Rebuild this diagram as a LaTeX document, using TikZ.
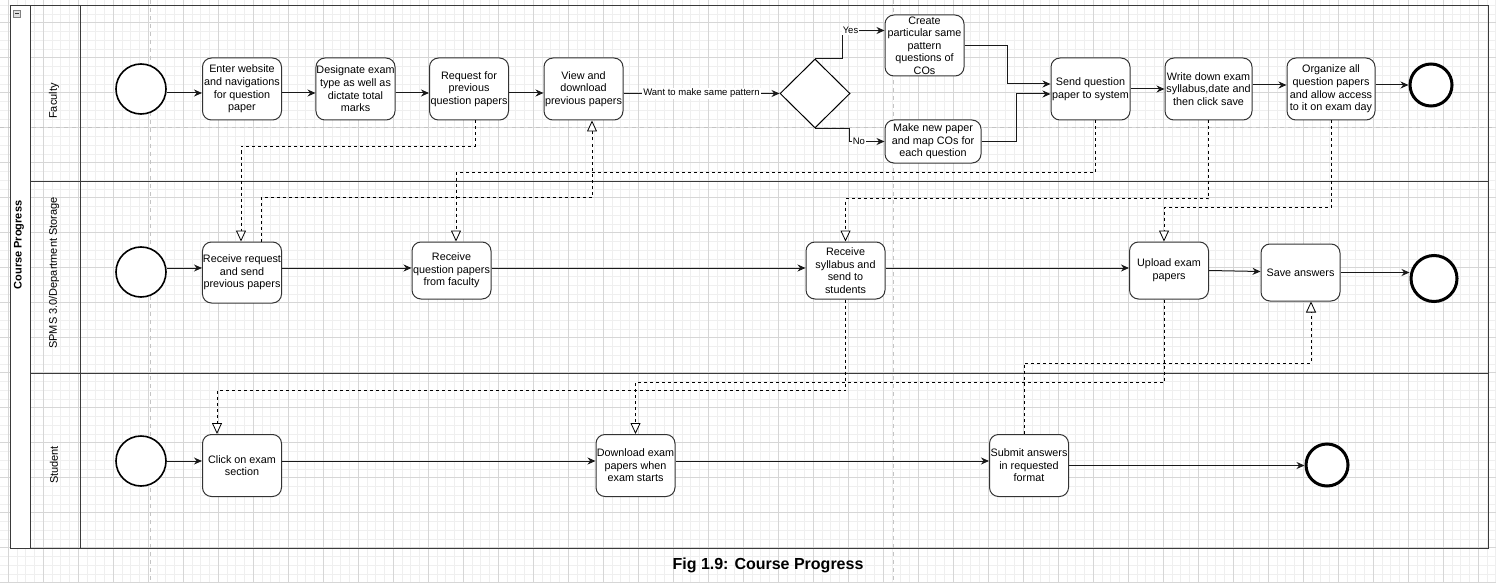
\documentclass[tikz,border=0pt]{standalone}
\usepackage{fontspec}
\setmainfont{Liberation Sans}
\usetikzlibrary{arrows.meta,shapes.geometric}
\definecolor{poolline}{HTML}{3A3A3A}
\definecolor{gridminor}{HTML}{EFEFEF}
\definecolor{gridmajor}{HTML}{D6D6D6}
\definecolor{pagebreak}{HTML}{C4C4C4}

\begin{document}
\begin{tikzpicture}[x=1pt,y=-1pt,
  task/.style={draw=black!80,fill=white,rounded corners=9pt,line width=1pt,
    align=center,inner sep=0.5pt,minimum width=79pt,minimum height=62pt,
    font=\fontsize{10.8}{12.6}\selectfont},
  startev/.style={circle,draw=black,fill=white,line width=1.6pt,minimum size=50pt,inner sep=0pt},
  endev/.style={circle,draw=black,fill=white,line width=3pt,minimum size=42pt,inner sep=0pt},
  gate/.style={diamond,draw=black,fill=white,line width=1pt,minimum width=70pt,minimum height=69pt,inner sep=0pt},
  flow/.style={draw=black!90,line width=1pt,-{Stealth[length=8pt,width=7pt]}},
  msg/.style={draw=black,line width=0.8pt,dash pattern=on 3pt off 3pt,
    -{Triangle[open,fill=white,length=11pt,width=10pt]}},
  lbl/.style={fill=white,inner sep=1pt,font=\fontsize{9.5}{11}\selectfont},
  lane/.style={rotate=90,font=\fontsize{11}{13}\selectfont},
  gridminor/.style={draw=gridminor,line width=0.8pt},
  gridmajor/.style={draw=gridmajor,line width=0.8pt},
  pagebreak/.style={draw=pagebreak,line width=1pt,dash pattern=on 4pt off 4pt}]

  \useasboundingbox (0,0) rectangle (1496,583);
  \fill[white] (0,0) rectangle (1496,583);

  \foreach \k in {0,...,170} \draw[gridminor] ({8.3+8.75*\k},0) -- ({8.3+8.75*\k},583);
  \foreach \k in {0,...,66} \draw[gridminor] (0,{5.2+8.75*\k}) -- (1496,{5.2+8.75*\k});
  \foreach \k in {0,...,42} \draw[gridmajor] ({8.3+35*\k},0) -- ({8.3+35*\k},583);
  \foreach \k in {0,...,16} \draw[gridmajor] (0,{22.7+35*\k}) -- (1496,{22.7+35*\k});

  \draw[pagebreak] (150,0) -- (150,583);
  \draw[pagebreak] (893,0) -- (893,583);
  \draw[pagebreak] (0,128) -- (1496,128);

  % pool and lanes
  \fill[white] (10,6) rectangle (30,548);
  \draw[poolline,line width=1pt] (10,6) rectangle (1488,548);
  \draw[poolline,line width=1pt] (30,6) -- (30,548);
  \draw[poolline,line width=1pt] (80,6) -- (80,548);
  \draw[poolline,line width=1pt] (30,181) -- (1488,181);
  \draw[poolline,line width=1pt] (30,373) -- (1488,373);

  \node[draw=gray,fill=gray!25,minimum size=7pt,inner sep=0pt] (collapse) at (17,13.5) {};
  \draw[black!80,line width=1pt] ([xshift=-2pt]collapse.center) -- ([xshift=2pt]collapse.center);

  \node[lane,font=\fontsize{11}{13}\selectfont\bfseries] (pool) at (19,245) {Course Progress};
  \node[lane] (faculty) at (54,101) {Faculty};
  \node[lane] (storage) at (54,273) {SPMS 3.0/Department Storage};
  \node[lane] (student) at (54,465) {Student};

  \begin{scope}[every node/.style={task}]
    \node (f1) at (242,89) {Enter website\\and navigations\\for question\\paper};
    \node (f2) at (355.5,89) {Designate exam\\type as well as\\dictate total\\marks};
    \node (f3) at (469,89) {Request for\\previous\\question papers};
    \node (f4) at (583.5,89) {View and\\download\\previous papers};
    \node[minimum height=61pt] (f5) at (924.5,45.5) {Create\\particular same\\pattern\\questions of\\COs};
    \node[minimum width=96pt,minimum height=43pt] (f6) at (933,141.5) {Make new paper\\and map COs for\\each question};
    \node (f7) at (1090.5,89) {Send question\\paper to system};
    \node[minimum width=87pt] (f8) at (1208.5,89) {Write down exam\\syllabus,date and\\then click save};
    \node[minimum width=88pt] (f9) at (1331,89) {Organize all\\question papers\\and allow access\\to it on exam day};

    \node[minimum height=61pt] (s1) at (242,272.5) {Receive request\\and send\\previous papers};
    \node[minimum height=57pt] (s2) at (451.5,270.5) {Receive\\question papers\\from faculty};
    \node[minimum height=57pt] (s3) at (845.5,270.5) {Receive\\syllabus and\\send to\\students};
    \node[minimum height=57pt] (s4) at (1169,270.5) {Upload exam\\papers};
    \node[minimum height=57pt] (s5) at (1300.5,272.5) {Save answers};

    \node (t1) at (242,465.5) {Click on exam\\section};
    \node (t2) at (635.5,465.5) {Download exam\\papers when\\exam starts};
    \node (t3) at (1029,465.5) {Submit answers\\in requested\\format};
  \end{scope}

  \node[startev] (fs) at (141,89) {};
  \node[startev] (ss) at (141,272) {};
  \node[startev] (ts) at (141,461) {};
  \node[endev] (fe) at (1431,85) {};
  \node[endev,minimum size=46pt] (se) at (1434,278.5) {};
  \node[endev] (te) at (1327,465) {};
  \node[gate] (dec) at (815,93.5) {};

  \begin{scope}[every edge/.style={flow}]
    \path ([yshift=-4pt]fs.east) edge ([yshift=-4pt]f1.west);
    \path ([yshift=-4pt]f1.east) edge ([yshift=-4pt]f2.west);
    \path ([yshift=-4pt]f2.east) edge ([yshift=-4pt]f3.west);
    \path ([yshift=-4pt]f3.east) edge ([yshift=-4pt]f4.west);
    \path (f4.east |- dec.west) edge node[lbl] {Want to make same pattern} (dec.west);
    \path (f7.east) edge (f8.west);
    \path ([yshift=4pt]f8.east) edge ([yshift=4pt]f9.west);
    \path ([yshift=4pt]f9.east) edge (fe.west);

    \path ([yshift=4pt]ss.east) edge ([yshift=4.5pt]s1.west);
    \path ([yshift=4.5pt]s1.east) edge ([yshift=2.5pt]s2.west);
    \path ([yshift=2.5pt]s2.east) edge ([yshift=2.5pt]s3.west);
    \path ([yshift=2.5pt]s3.east) edge ([yshift=2.5pt]s4.west);
    \path (s4.east) edge ([yshift=1pt]s5.west);
    \path (s5.east) edge (s5.east -| se.west);

    \path (ts.east) edge (ts.east -| t1.west);
    \path ([yshift=4.5pt]t1.east) edge ([yshift=4.5pt]t2.west);
    \path ([yshift=4.5pt]t2.east) edge ([yshift=4.5pt]t3.west);
    \path (t3.east) edge (t3.east -| te.west);
  \end{scope}

  \draw[flow] (dec.north) -- ++(27,0) |- ([yshift=15pt]f5.west) node[lbl,pos=0.6] {Yes};
  \draw[flow] (dec.south) -- ++(34,0) |- (f6.west) node[lbl,pos=0.64] {No};
  \draw[flow] (f5.east) -- ++(43,0) |- ([yshift=5pt]f7.west);
  \draw[flow] (f6.east) -- ++(35,0) |- ([yshift=-5pt]f7.west);

  \draw[msg] ([xshift=6pt]f3.south) -- ++(0,26) -| ([xshift=-1pt]s1.north);
  \draw[msg] ([xshift=19pt]s1.north) -- ++(0,-44) -| ([xshift=8.5pt]f4.south);
  \draw[msg] ([xshift=4.5pt]f7.south) -- ++(0,52) -| ([xshift=4.5pt]s2.north);
  \draw[msg] (f8.south) -- ++(0,78) -| (s3.north);
  \draw[msg] (f9.south) -- ++(0,87) -| ([xshift=-5pt]s4.north);
  \draw[msg] (s3.south) -- ++(0,91) -| ([xshift=-25pt]t1.north);
  \draw[msg] ([xshift=-5pt]s4.south) -- ++(0,83) -| (t2.north);
  \draw[msg] ([xshift=-5pt]t3.north) -- ++(0,-71) -| ([xshift=10.5pt]s5.south);

  \node[font=\fontsize{16}{19}\selectfont\bfseries] (caption) at (768,565) {Fig 1.9: Course Progress};

\end{tikzpicture}
\end{document}
